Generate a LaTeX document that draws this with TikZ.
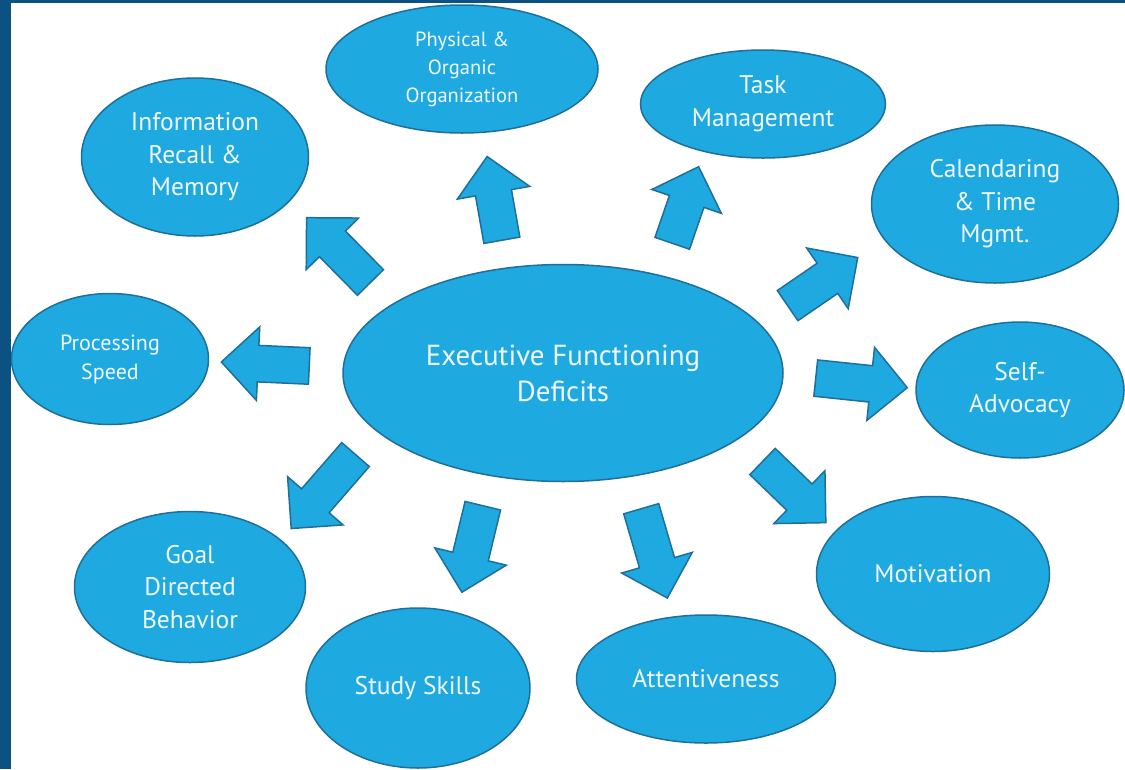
\documentclass[tikz,border=0pt]{standalone}
\usepackage{fontspec}
\setmainfont{PT Sans}
\usetikzlibrary{shapes.geometric,shapes.arrows}
\definecolor{skyfill}{HTML}{1FA9E1}
\definecolor{skyline}{HTML}{1E6F9A}
\definecolor{frameblue}{HTML}{0B5182}
\definecolor{bubbletext}{HTML}{F0F8FC}

\begin{document}
\begin{tikzpicture}
[x=1pt,y=-1pt,
bubble/.style={ellipse,draw=skyline,fill=skyfill,line width=1.5pt,inner sep=0pt,
  text=bubbletext,align=center,font=\fontsize{25.5}{32.5}\selectfont},
barrow/.style={single arrow,draw=skyline,fill=skyfill,line width=1.5pt,
  inner xsep=0pt,inner ysep=17.5pt,minimum width=72pt,
  single arrow head extend=18.5pt,anchor=tail}]
\useasboundingbox (0,0) rectangle (1125,769);
\fill[white] (0,0) rectangle (1125,769);

\node[bubble,minimum width=440pt,minimum height=217pt,font=\fontsize{29}{36}\selectfont] at (563,373) (efd) {Executive Functioning\\Deficits};
\node[bubble,minimum width=227pt,minimum height=158pt] at (195,157) (info) {Information\\Recall \&\\Memory};
\node[bubble,minimum width=272pt,minimum height=128pt,font=\fontsize{20.5}{28}\selectfont] at (462,69) (phys) {Physical \&\\Organic\\Organization};
\node[bubble,minimum width=245pt,minimum height=108pt] at (763,104) (task) {Task\\Management};
\node[bubble,minimum width=247pt,minimum height=158pt] at (995,204) (cal) {Calendaring\\\& Time\\Mgmt.};
\node[bubble,minimum width=208pt,minimum height=136pt] at (1020,390) (self) {Self-\\Advocacy};
\node[bubble,minimum width=233pt,minimum height=155pt] at (933,574) (motiv) {Motivation};
\node[bubble,minimum width=259pt,minimum height=128pt] at (706,679) (attn) {Attentiveness};
\node[bubble,minimum width=224pt,minimum height=160pt] at (418,688) (study) {Study Skills};
\node[bubble,minimum width=231pt,minimum height=151pt] at (190,587) (goal) {Goal\\Directed\\Behavior};
\node[bubble,minimum width=197pt,minimum height=131pt,font=\fontsize{22}{29}\selectfont] at (110,359) (proc) {Processing\\Speed};

% block arrows out of the centre
\node[barrow,minimum height=91pt,rotate=134.6] at (371,283) (toinfo) {};
\node[barrow,minimum height=85pt,rotate=100] at (502,241) (tophys) {};
\node[barrow,minimum height=81pt,rotate=71] at (672,244) (totask) {};
\node[barrow,minimum height=85pt,rotate=34.4] at (787,306) (tocal) {};
\node[barrow,minimum height=92pt,rotate=-6] at (815,378) (toself) {};
\node[barrow,minimum height=88pt,rotate=-44] at (762,461) (tomotiv) {};
\node[barrow,minimum height=93pt,rotate=-73.7] at (641,508) (toattn) {};
\node[barrow,minimum height=89pt,rotate=-103.6] at (483,505) (tostudy) {};
\node[barrow,minimum height=98pt,rotate=-131] at (356,454) (togoal) {};
\node[barrow,minimum height=88pt,rotate=177.4] at (310,366) (toproc) {};

\fill[frameblue] (0,0) rectangle (11,769);
\fill[frameblue] (0,0) rectangle (1125,3);
\end{tikzpicture}
\end{document}
